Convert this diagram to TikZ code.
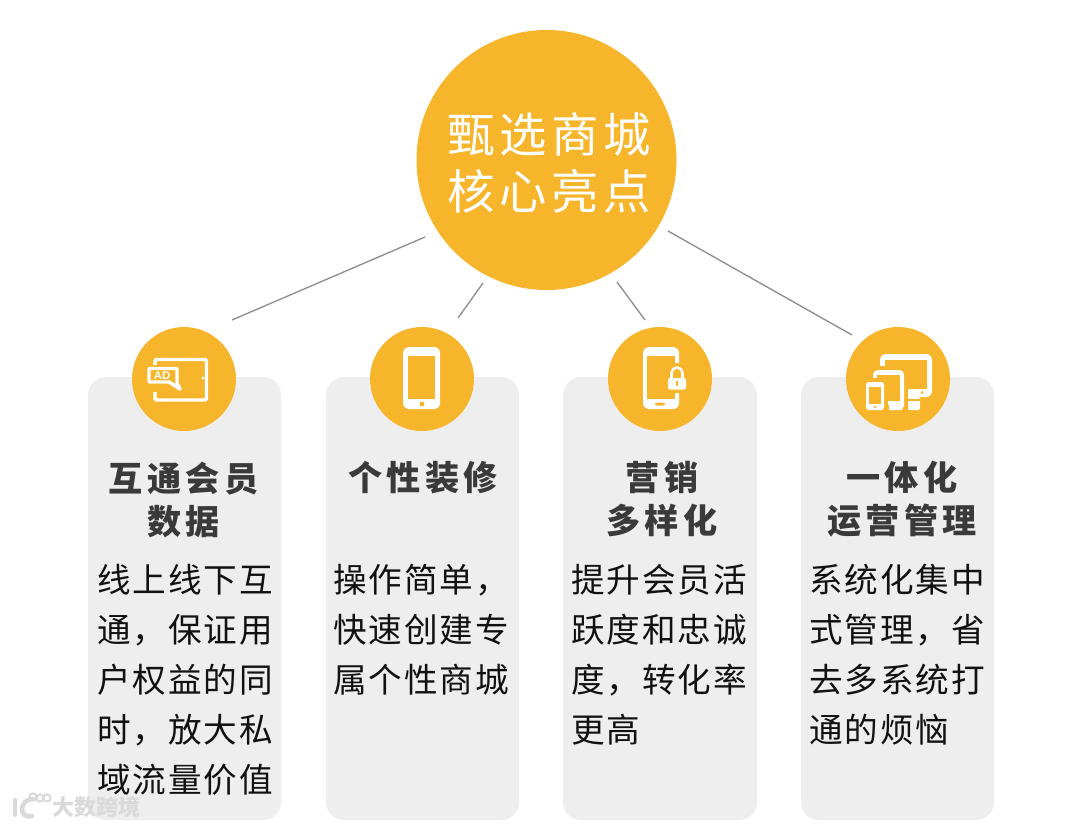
\documentclass[tikz,border=0pt]{standalone}
\usepackage{fontspec}
\newfontfamily\cjk{Noto Sans CJK SC}
\definecolor{amber}{HTML}{F7B52C}
\definecolor{cardgrey}{HTML}{EEEEEE}
\definecolor{linkgrey}{HTML}{8E8E8E}
\definecolor{inktext}{HTML}{111111}
\definecolor{headtext}{HTML}{3A3A3A}
\definecolor{markgrey}{HTML}{DADADA}
\tikzset{
  x=0.75pt,y=-0.75pt,
  card/.style={fill=cardgrey,draw=none,rounded corners=13.5pt},
  hub/.style={circle,fill=amber,draw=none,minimum size=195pt,inner sep=0pt},
  badge/.style={circle,fill=amber,draw=none,minimum size=78pt,inner sep=0pt},
  link/.style={draw=linkgrey,line width=1pt},
  hubtext/.style={text=white,align=center,inner sep=0pt,font=\cjk\addfontfeature{LetterSpace=10}\fontsize{35.5}{42.75}\selectfont},
  headtxt/.style={text=headtext,align=center,inner sep=0pt,font=\cjk\bfseries\addfontfeature{LetterSpace=13}\fontsize{25.6}{32.25}\selectfont},
  bodytxt/.style={text=inktext,align=left,inner sep=0pt,anchor=north west,font=\cjk\addfontfeature{LetterSpace=5.5}\fontsize{25.2}{37.5}\selectfont},
  iconw/.style={fill=white,draw=none},
  icona/.style={fill=amber,draw=none},
}
\begin{document}
\begin{tikzpicture}
\useasboundingbox[fill=white] (0,0) rectangle (1080,827);
% cards
\fill[card] (88,377) rectangle (281,820);
\fill[card] (326,377) rectangle (519,820);
\fill[card] (563,377) rectangle (757,820);
\fill[card] (801,377) rectangle (994,820);
% connector ends
\coordinate (h1) at (425,237); \coordinate (b1) at (232,320);
\coordinate (h2) at (483,283); \coordinate (b2) at (458,318);
\coordinate (h3) at (617,282); \coordinate (b3) at (645,320);
\coordinate (h4) at (668,231); \coordinate (b4) at (852,335);
\draw[link] (h1) -- (b1);
\draw[link] (h2) -- (b2);
\draw[link] (h3) -- (b3);
\draw[link] (h4) -- (b4);
% circles
\node[hub] (hub) at (546.5,160) {};
\node[badge] (c1) at (184,379) {};
\node[badge] (c2) at (422,379) {};
\node[badge] (c3) at (660,379) {};
\node[badge] (c4) at (898,379) {};
\node[hubtext] (title) at (549,163) {甄选商城\\核心亮点};
% headings
\node[headtxt] (t1) at (183.5,499.5) {互通会员\\数据};
\node[headtxt] (t2) at (423,478) {个性装修};
\node[headtxt] (t3) at (662,499.5) {营销\\多样化};
\node[headtxt] (t4) at (902,499.5) {一体化\\运营管理};
% body
\node[bodytxt] (d1) at (97,564) {线上线下互\\通，保证用\\户权益的同\\时，放大私\\域流量价值};
\node[bodytxt] (d2) at (333,564) {操作简单，\\快速创建专\\属个性商城};
\node[bodytxt] (d3) at (571,564) {提升会员活\\跃度和忠诚\\度，转化率\\更高};
\node[bodytxt] (d4) at (809,564) {系统化集中\\式管理，省\\去多系统打\\通的烦恼};
% icon 1: tablet with AD bubble
\draw[white,line width=2.6pt,rounded corners=1pt] (155,359.5) rectangle (206.5,400);
\fill[white] (203,378) circle (1.6);
\fill[icona] (145,365) rectangle (181,392);
\draw[white,line width=2.6pt,line join=round,fill=amber] (149,368.5) -- (177,368.5) -- (177,383) -- (180,389) -- (169,382) -- (149,382) -- cycle;
\node[text=white,inner sep=0pt,font=\fontspec{Liberation Sans}\bfseries\fontsize{8.5}{10}\selectfont] (ad) at (162,375.5) {AD};
% icon 2: phone
\fill[iconw,rounded corners=4.5pt] (403,347) rectangle (440,409);
\fill[icona] (408,356) rectangle (435,399);
\fill[icona] (422,404) circle (2.4);
% icon 3: phone with lock
\fill[iconw,rounded corners=4.5pt] (643,347) rectangle (679,409);
\fill[icona] (647,356) rectangle (675,399);
\fill[icona,rounded corners=1.5pt] (655,402.5) rectangle (665,405.5);
\fill[icona,rounded corners=2pt] (665,372) rectangle (690,393);
\fill[icona] (677,373) circle (10);
\draw[white,line width=1.9pt] (671.5,380) -- (671.5,373) arc[start angle=180,end angle=360,radius=5.5] -- (682.5,380);
\fill[iconw,rounded corners=1.5pt] (668,378) rectangle (686,389.5);
\fill[icona] (676.2,381) rectangle (677.8,386);
% icon 4: devices
\fill[iconw,rounded corners=4.5pt] (880,354) rectangle (932,397);
\fill[icona] (885,360) rectangle (927,389);
\fill[icona] (922,392.5) circle (1.5);
\fill[iconw,rounded corners=1.5pt] (907,397) rectangle (920,410);
\fill[icona] (905,399) rectangle (922,400.5);
\fill[icona,rounded corners=3pt] (870,366) rectangle (908,414);
\fill[iconw,rounded corners=3.5pt] (873,370) rectangle (904,410);
\fill[icona] (877,375) rectangle (900,401);
\fill[icona,rounded corners=2pt] (862,378) rectangle (888,414);
\fill[iconw,rounded corners=2pt] (866,382) rectangle (884,410);
\fill[icona] (869,387) rectangle (881,404);
\fill[icona] (875,407) circle (1.3);
\fill[iconw] (888,401) rectangle (902,410);
\fill[icona] (886,405) rectangle (889,410);
% watermark
\draw[markgrey,line width=3pt,line cap=round] (15,800) -- (15,815);
\draw[markgrey,line width=3.4pt,line cap=round] (33,799) .. controls (19,799) and (18,819) .. (32,816);
\draw[markgrey,line width=1.5pt] (33,797) circle (3.6);
\draw[markgrey,line width=1.5pt] (40,798) circle (3.6);
\draw[markgrey,line width=1.5pt] (47,798) circle (3.6);
\node[text=markgrey,inner sep=0pt,anchor=west,font=\cjk\bfseries\fontsize{16.5}{18}\selectfont] (mark) at (52,807) {大数跨境};
\end{tikzpicture}
\end{document}
